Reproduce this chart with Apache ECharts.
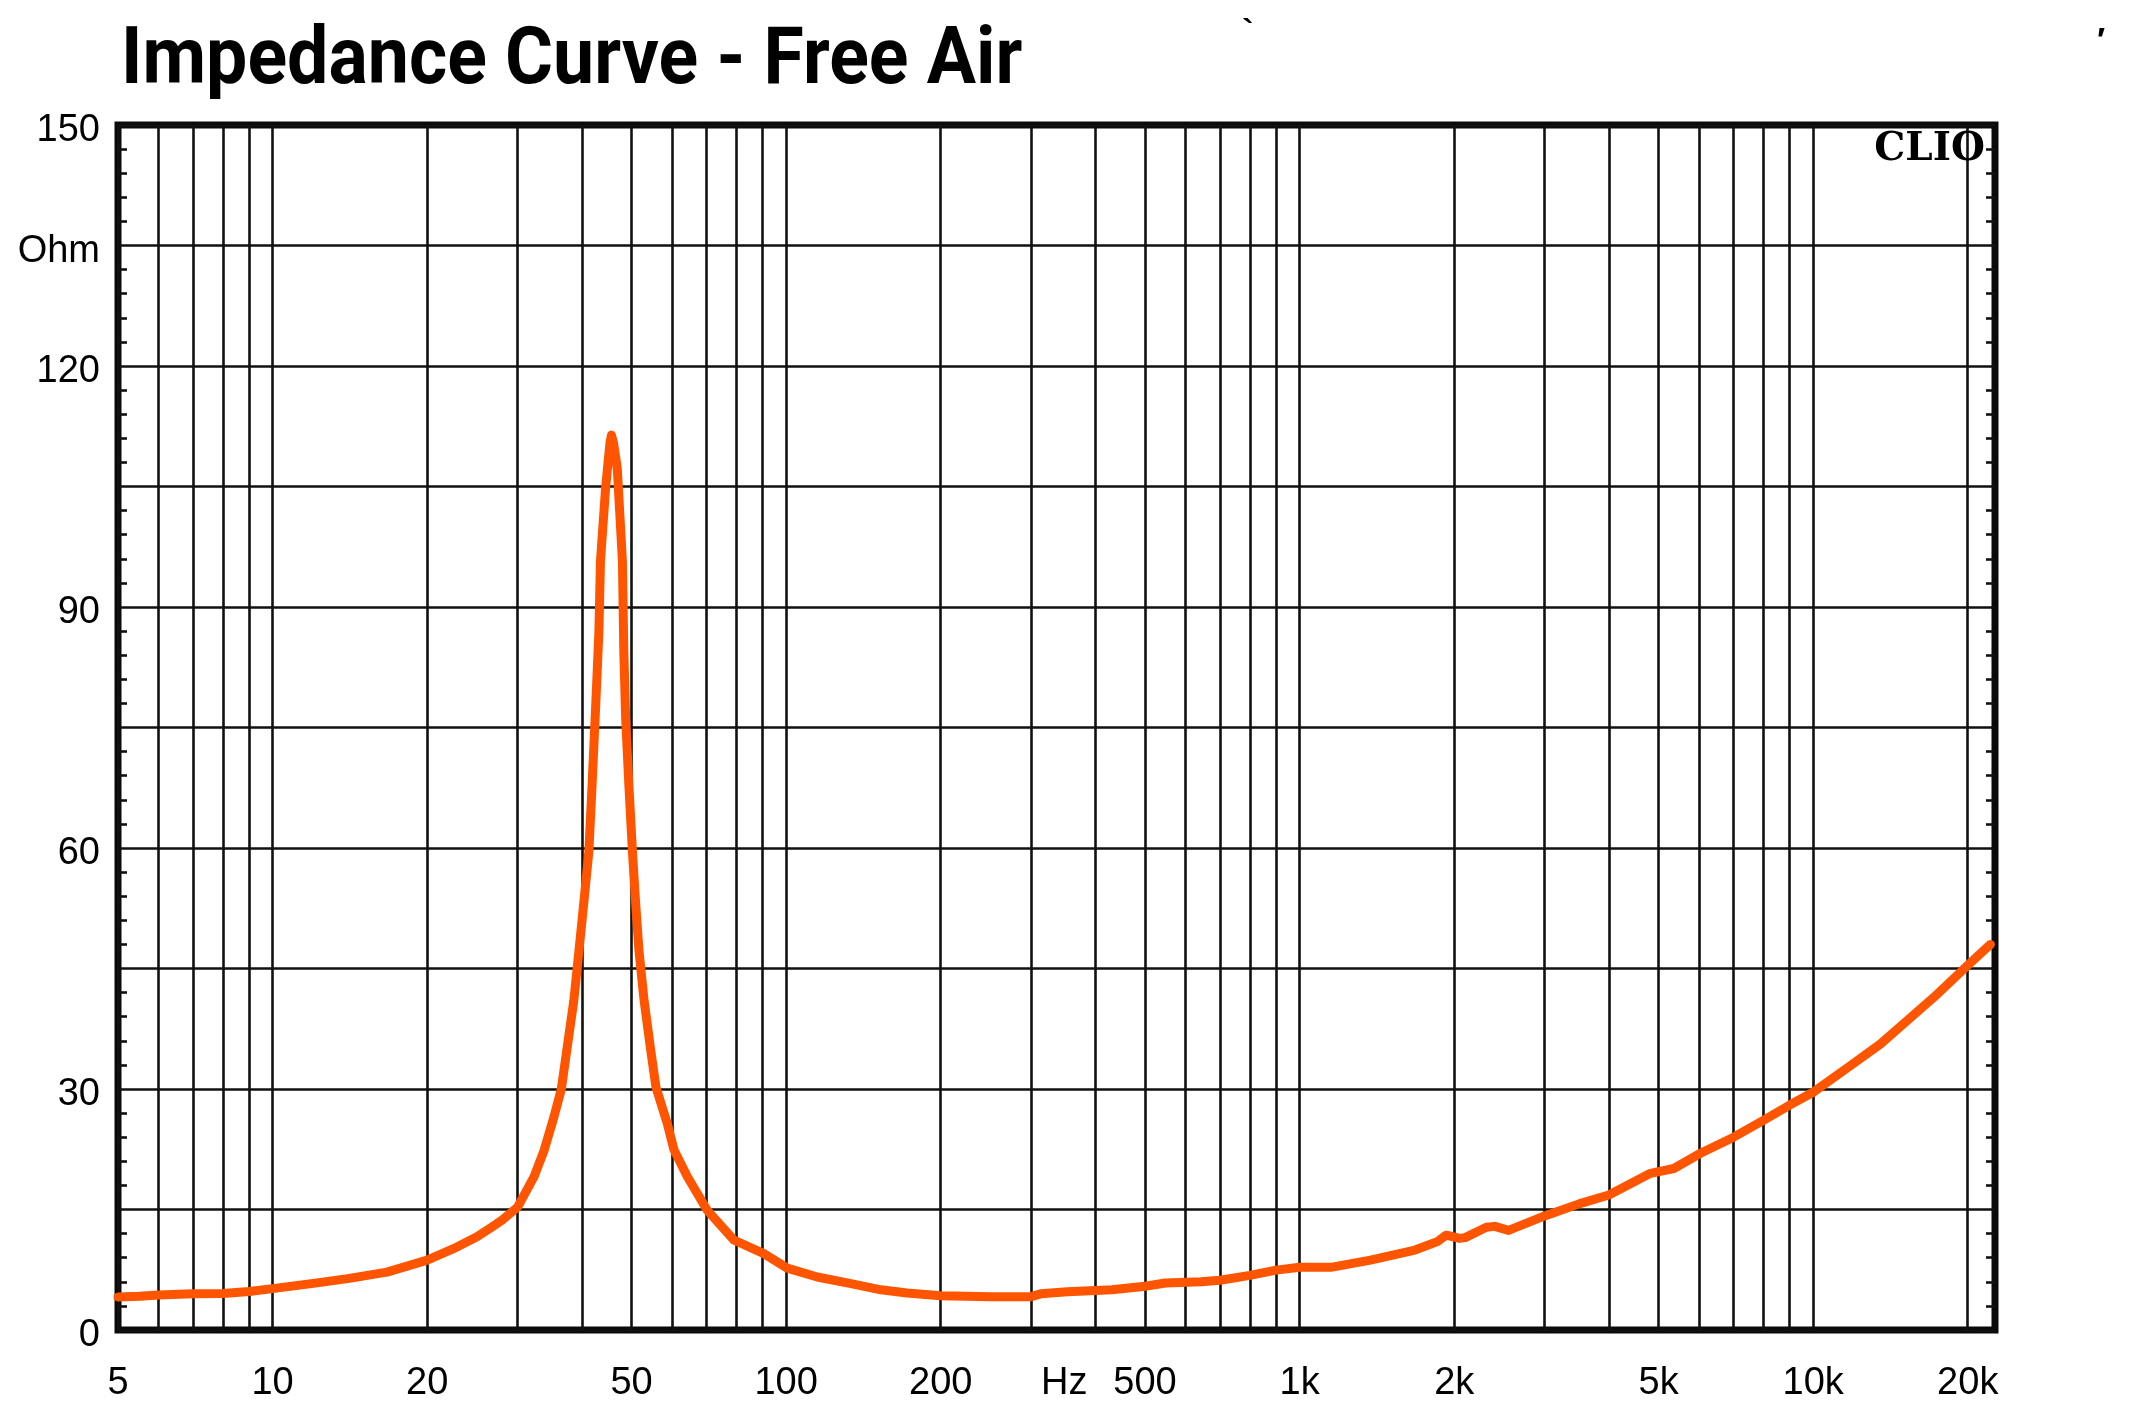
<!DOCTYPE html>
<html>
<head>
<meta charset="utf-8">
<title>Impedance Curve - Free Air</title>
<script src="https://cdn.jsdelivr.net/npm/echarts@6/dist/echarts.min.js"></script>
<style>
    html, body { margin: 0; padding: 0; background: #fff; }
    #grafico { width: 2138px; height: 1414px; }
</style>
</head>
<body>
<div id="grafico"></div>
<script>
// curva (Hz, Ohm)
const frecuencias = [
    5, 5.5, 6, 7, 8, 9, 10, 12, 14, 16.7, 20, 22.8, 25, 26.7, 28, 30, 32.3, 33.8, 35.3, 36.5,
    37.4, 38.6, 39.5, 40.4, 41.3, 41.9, 42.6, 43.2, 43.5, 44.5, 44.9, 45.4, 45.7, 46.1, 46.9, 47.3,
    48.0, 48.3, 48.7, 49.4, 50.2, 50.9, 51.7, 52.9, 54.5, 55.8, 58.7, 60.5, 64.2, 70.2, 79.1, 90.5,
    100.5, 115, 133, 153, 172, 200, 250, 300, 313, 353, 431, 500, 548, 643, 700, 800, 900, 1000,
    1150, 1374, 1677, 1854, 1929, 2048, 2100, 2310, 2400, 2551, 3000, 3500, 4000, 4822, 5354, 6034,
    7000, 8000, 9000, 10000, 11820, 13520, 15240, 17170, 20000, 22140
];
const impedancias = [
    4.1, 4.2, 4.35, 4.5, 4.55, 4.8, 5.15, 5.8, 6.4, 7.2, 8.7, 10.3, 11.6, 12.8, 13.7, 15.3, 19.1, 22.4, 26.5, 30,
    34.8, 41.0, 47.2, 53.4, 59.6, 67.9, 78, 87, 95.7, 104.7, 107.3, 110.5, 111.4, 110.5, 107.3, 103.1,
    95.7, 84.5, 76.2, 67.9, 59.6, 53.4, 47.2, 41.0, 34.8, 30.2, 25.7, 22.4, 19.1, 14.9, 11.2, 9.5,
    7.7, 6.6, 5.8, 5.0, 4.6, 4.25, 4.15, 4.15, 4.5, 4.75, 5.0, 5.45, 5.85, 6.0, 6.2, 6.8, 7.45, 7.8,
    7.8, 8.7, 9.95, 11.0, 11.8, 11.4, 11.5, 12.8, 12.9, 12.4, 14.2, 15.7, 16.8, 19.5, 20.1, 22.0,
    24.0, 26.1, 28.0, 29.6, 32.9, 35.6, 38.5, 41.4, 45.4, 48.0
];

// lineas verticales de la rejilla
const lineasX = [
    5, 6, 7, 8, 9, 10, 20, 30, 40, 50, 60, 70, 80, 90, 100, 200, 300, 400, 500, 600, 700, 800, 900,
    1000, 2000, 3000, 4000, 5000, 6000, 7000, 8000, 9000, 10000, 20000
];
// etiquetas del eje x
const marcasX = [5, 10, 20, 50, 100, 200, 348, 500, 1000, 2000, 5000, 10000, 20000];
const textosX = ['5', '10', '20', '50', '100', '200', 'Hz', '500', '1k', '2k', '5k', '10k', '20k'];
// etiquetas del eje y
const marcasY = [0, 30, 60, 90, 120, 135, 150];
const textosY = ['0', '30', '60', '90', '120', 'Ohm', '150'];

const colorRejilla = '#111';
const fuenteEjes = 'Liberation Sans, Arial, sans-serif';

const chart = echarts.init(document.getElementById('grafico'), null, { renderer: 'canvas' });

const ejeY = (lado, conEtiquetas) => ({
    type: 'value',
    position: lado,
    min: 0,
    max: 150,
    interval: 15,
    axisLine: { show: false },
    axisTick: { show: false, inside: true },
    minorTick: {
        show: true,
        splitNumber: 5,
        length: 9,
        lineStyle: { color: colorRejilla, width: 2.6 }
    },
    splitLine: {
        show: conEtiquetas,
        lineStyle: { color: colorRejilla, width: 2.6 }
    },
    axisLabel: {
        show: conEtiquetas,
        margin: 18,
        verticalAlign: 'top',
        lineHeight: 12,
        color: '#000',
        fontSize: 38,
        fontFamily: fuenteEjes,
        formatter: (valor) => {
            const idx = marcasY.indexOf(valor);
            return idx >= 0 ? textosY[idx] : '';
        }
    }
});

const opciones = {
    animation: false,
    backgroundColor: '#fff',
    grid: {
        left: 118,
        right: 143,
        top: 125,
        bottom: 84,
        show: true,
        backgroundColor: '#fff',
        borderColor: '#0a0a0a',
        borderWidth: 7
    },
    xAxis: {
        type: 'log',
        logBase: 10,
        min: 5,
        max: 22600,
        axisLine: { show: false },
        axisTick: { show: false },
        axisLabel: { show: false },
        splitLine: { show: false },
        minorTick: { show: false },
        minorSplitLine: { show: false }
    },
    yAxis: [ejeY('left', true), ejeY('right', false)],
    series: [
        {
            name: 'Impedance',
            type: 'line',
            z: 3,
            showSymbol: false,
            symbol: 'none',
            clip: true,
            data: frecuencias.map((f, i) => [f, impedancias[i]]),
            lineStyle: { color: '#ff5500', width: 9, cap: 'round', join: 'round' },
            markLine: {
                silent: true,
                z: 1,
                symbol: ['none', 'none'],
                animation: false,
                label: { show: false },
                lineStyle: { color: colorRejilla, width: 2.6, type: 'solid' },
                emphasis: { disabled: true },
                data: lineasX.map(f => ({ xAxis: f }))
            }
        }
    ]
};

chart.setOption(opciones);

// textos fijos y etiquetas del eje x colocadas con la escala del eje
const graficosFijos = [
    {
        type: 'text',
        x: 121,
        y: 63,
        scaleX: 1.02,
        scaleY: 1.1,
        z: 10,
        style: {
            text: 'Impedance Curve - Free Air',
            fill: '#000',
            fontSize: 72,
            fontWeight: 'bold',
            fontFamily: 'Roboto, sans-serif',
            align: 'left',
            verticalAlign: 'middle'
        }
    },
    {
        type: 'text',
        x: 1985,
        y: 150,
        z: 10,
        style: {
            text: 'CLIO',
            fill: '#000',
            fontSize: 39,
            fontWeight: 'bold',
            fontFamily: 'DejaVu Serif, serif',
            align: 'right',
            verticalAlign: 'middle'
        }
    },
    {
        type: 'text',
        x: 1248,
        y: 33,
        style: { text: '`', fill: '#000', fontSize: 34, fontWeight: 'bold', fontFamily: fuenteEjes, align: 'center', verticalAlign: 'middle' }
    },
    {
        type: 'text',
        x: 2101,
        y: 42,
        style: { text: '′', fill: '#000', fontSize: 34, fontWeight: 'bold', fontFamily: fuenteEjes, align: 'center', verticalAlign: 'middle' }
    }
];

const yCero = chart.convertToPixel({ gridIndex: 0 }, [5, 0])[1];
const etiquetasX = marcasX.map((f, i) => {
    const px = chart.convertToPixel({ gridIndex: 0 }, [f, 0])[0];
    return {
        type: 'text',
        x: px,
        y: yCero + 54,
        z: 10,
        style: {
            text: textosX[i],
            fill: '#000',
            fontSize: 38,
            fontFamily: fuenteEjes,
            align: 'center',
            verticalAlign: 'middle'
        }
    };
});

chart.setOption({ graphic: graficosFijos.concat(etiquetasX) });

window.addEventListener('resize', () => {
    if (chart !== null && chart !== undefined) {
        chart.resize();
    }
});
</script>
</body>
</html>
